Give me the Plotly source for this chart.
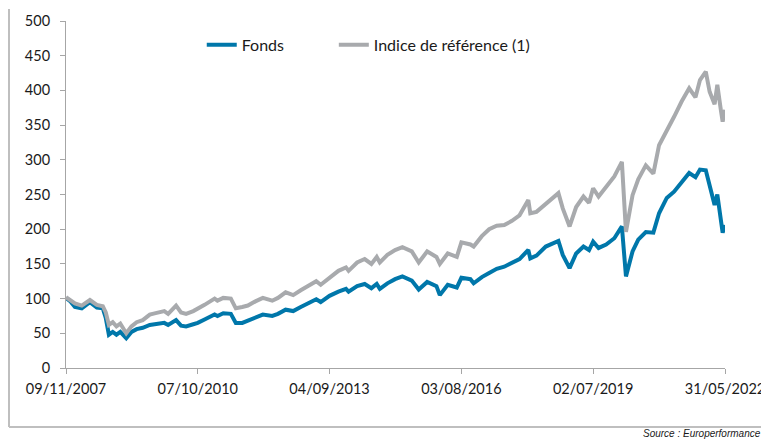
import plotly.graph_objects as go

dates = [
    "2007-11-09", "2007-12-15", "2008-01-20", "2008-03-15", "2008-05-20", "2008-07-15",
    "2008-09-01", "2008-09-25", "2008-10-20", "2008-11-20", "2008-12-20", "2009-01-20",
    "2009-03-09", "2009-04-20", "2009-06-01", "2009-07-20", "2009-09-15", "2009-11-01",
    "2010-01-10", "2010-02-10", "2010-04-15", "2010-05-25", "2010-07-05", "2010-09-01",
    "2010-10-07", "2010-12-01", "2011-01-15", "2011-02-20", "2011-03-15", "2011-05-01",
    "2011-07-01", "2011-08-10", "2011-10-01", "2011-11-15", "2012-01-15", "2012-03-15",
    "2012-05-30", "2012-07-15", "2012-09-15", "2012-11-15", "2013-01-15", "2013-03-15",
    "2013-05-20", "2013-06-25", "2013-09-04", "2013-11-15", "2014-01-15", "2014-02-05",
    "2014-04-15", "2014-06-15", "2014-08-08", "2014-09-20", "2014-10-15", "2014-12-15",
    "2015-02-15", "2015-04-15", "2015-06-30", "2015-08-25", "2015-11-01", "2016-01-15",
    "2016-02-11", "2016-04-15", "2016-06-27", "2016-08-03", "2016-10-15", "2016-11-10",
    "2017-01-15", "2017-03-15", "2017-05-15", "2017-07-15", "2017-09-15", "2017-11-15",
    "2018-01-25", "2018-02-10", "2018-04-01", "2018-06-15", "2018-09-25", "2018-10-30",
    "2018-12-24", "2019-02-15", "2019-04-15", "2019-05-30", "2019-07-02", "2019-08-15",
    "2019-10-15", "2019-12-20", "2020-02-19", "2020-03-23", "2020-05-15", "2020-06-30",
    "2020-08-30", "2020-10-30", "2020-12-15", "2021-02-15", "2021-04-15", "2021-06-15",
    "2021-08-15", "2021-10-05", "2021-11-10", "2021-12-27", "2022-01-27", "2022-03-08",
    "2022-03-30", "2022-04-29", "2022-05-12", "2022-05-31",
]

indice = [
    102, 98, 93, 90, 98, 91,
    89, 80, 62, 66, 60, 64,
    50, 60, 66, 69, 77, 79,
    82, 78, 90, 80, 78, 82,
    85, 91, 96, 100, 97, 101,
    100, 86, 88, 90, 96, 101,
    97, 101, 109, 105, 112, 118,
    125, 120, 130, 140, 145, 140,
    152, 157, 150, 160, 152, 163,
    170, 174, 168, 152, 168, 160,
    150, 165, 160, 181, 178, 175,
    190, 200, 205, 206, 212, 220,
    242, 223, 225, 237, 252, 230,
    204, 232, 247, 238, 259, 247,
    260, 276, 297, 196, 249, 272,
    292, 280, 321, 341, 362, 384,
    403, 390, 415, 427, 398, 380,
    408, 370, 355, 372,
]

fonds = [
    101, 96, 88, 86, 95, 87,
    86, 72, 48, 52, 48, 52,
    43, 52, 56, 58, 62, 63,
    65, 62, 69, 61, 60, 63,
    65, 70, 74, 77, 75, 79,
    78, 65, 65, 68, 72, 77,
    75, 78, 84, 82, 88, 93,
    99, 95, 104, 110, 114, 110,
    118, 121, 115, 121, 114, 122,
    128, 132, 126, 113, 124, 118,
    105, 120, 116, 130, 128, 122,
    131, 137, 143, 146, 151, 157,
    170, 158, 162, 175, 183, 163,
    144, 165, 175, 170, 182, 173,
    178, 187, 204, 132, 168, 185,
    196, 195, 223, 245, 254, 268,
    281, 275, 286, 285, 262, 235,
    250, 215, 195, 206,
]

tick_dates = ["2007-11-09", "2010-10-07", "2013-09-04", "2016-08-03", "2019-07-02", "2022-05-31"]
tick_labels = ["09/11/2007", "07/10/2010", "04/09/2013", "03/08/2016", "02/07/2019", "31/05/2022"]
y_ticks = [0, 50, 100, 150, 200, 250, 300, 350, 400, 450, 500]

BLUE = "#0077aa"
GRAY = "#a8aaad"
AXIS = "#a6a6a6"
FONT = "Lato"

fig = go.Figure()
fig.add_trace(go.Scatter(x=dates, y=fonds, mode="lines", name="Fonds",
                         line=dict(color=BLUE, width=4), legend="legend"))
fig.add_trace(go.Scatter(x=dates, y=indice, mode="lines", name="Indice de référence (1)",
                         line=dict(color=GRAY, width=4), legend="legend2"))

legend_font = dict(family=FONT, size=16, color="#1a1a1a")
fig.update_layout(
    width=761, height=431,
    margin=dict(l=58, r=44, t=13, b=71, autoexpand=False),
    paper_bgcolor="white", plot_bgcolor="white",
    font=dict(family=FONT, size=14.5, color="#1a1a1a"),
    showlegend=True,
    legend=dict(orientation="h", x=0.206, y=0.931, xanchor="left", yanchor="middle",
                font=legend_font, bgcolor="rgba(0,0,0,0)"),
    legend2=dict(orientation="h", x=0.4064, y=0.931, xanchor="left", yanchor="middle",
                 font=legend_font, bgcolor="rgba(0,0,0,0)"),
    xaxis=dict(range=[dates[0], dates[-1]], tickmode="array", tickvals=tick_dates,
               ticktext=tick_labels, showgrid=False, zeroline=False,
               showline=True, linecolor=AXIS, linewidth=1, automargin=False,
               ticks="outside", ticklen=5, tickcolor=AXIS, ticklabelstandoff=3),
    yaxis=dict(range=[0, 500], tickmode="array", tickvals=y_ticks,
               showgrid=False, zeroline=False, showline=True, linecolor=AXIS,
               linewidth=1, automargin=False, ticks="outside", ticklen=5, tickcolor=AXIS,
               ticklabelstandoff=7),
)

# outer frame lines (left and bottom), kept within the figure bounds
fx0 = -57.0 / 659
fx1 = 1 + 43.0 / 659
fy0 = -59.0 / 347
fy1 = 1 + 12.0 / 347
fig.add_shape(type="line", xref="paper", yref="paper", x0=fx0, x1=fx0,
              y0=fy0, y1=fy1, line=dict(color="#bfbfbf", width=2))
fig.add_shape(type="line", xref="paper", yref="paper", x0=fx0, x1=fx1,
              y0=fy0, y1=fy0, line=dict(color="#bfbfbf", width=2))

fig.add_annotation(xref="paper", yref="paper", x=0.8725, y=-0.19, xanchor="left",
                   yanchor="middle", showarrow=False,
                   text="<i>Source : Europerformance</i>",
                   font=dict(family="Liberation Sans", size=10, color="#1a1a1a"))

fig.write_html("out.html")
